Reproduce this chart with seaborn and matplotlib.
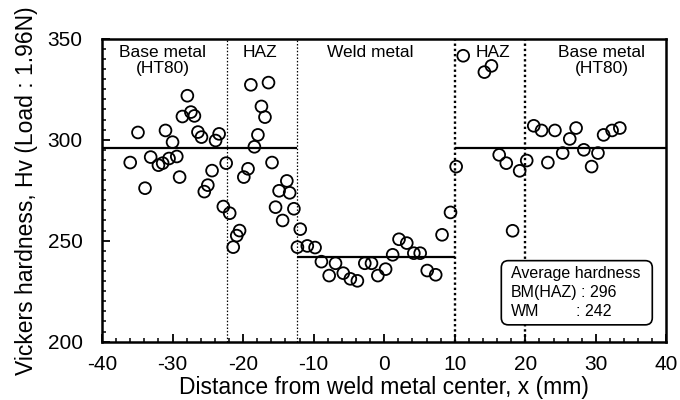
import matplotlib
matplotlib.use("Agg")
import matplotlib.pyplot as plt
from matplotlib.patches import FancyBboxPatch
from matplotlib.ticker import MultipleLocator
import seaborn as sns
import pandas as pd

# ---- data ----
distance_mm = [-36.0, -34.9, -33.9, -33.1, -32.0, -31.4, -31.0, -30.5, -30.0, -29.4,
               -29.0, -28.6, -27.9, -27.4, -26.9, -26.4, -25.9, -25.5, -25.0, -24.4,
               -23.9, -23.4, -22.8, -22.4, -21.9, -21.4, -20.9, -20.5, -19.9, -19.3,
               -18.9, -18.4, -17.9, -17.4, -16.9, -16.4, -15.9, -15.4, -14.9, -14.4,
               -13.8, -13.4, -12.8, -12.3, -11.9, -10.9, -9.8, -8.9, -7.8, -6.9,
               -5.8, -4.8, -3.8, -2.75, -1.8, -0.9, 0.2, 1.2, 2.1, 3.2,
               4.2, 5.1, 6.1, 7.3, 8.2, 9.4, 10.2, 11.2, 14.2, 15.2,
               16.3, 17.3, 18.2, 19.2, 20.2, 21.2, 22.3, 23.2, 24.2, 25.3,
               26.3, 27.2, 28.3, 29.4, 30.3, 31.1, 32.3, 33.4]
hardness_hv = [288.7, 303.6, 276.0, 291.4, 287.4, 288.4, 304.6, 290.7, 298.8, 291.7,
               281.5, 311.5, 321.8, 313.7, 311.8, 303.8, 301.3, 274.3, 277.5, 284.7,
               299.6, 302.9, 266.9, 288.4, 263.6, 246.8, 252.5, 255.0, 281.5, 285.6,
               327.2, 296.5, 302.4, 316.5, 311.2, 328.3, 288.7, 266.6, 274.7, 260.0,
               279.6, 273.7, 265.8, 246.8, 255.7, 247.4, 246.6, 239.6, 232.7, 238.8,
               233.9, 231.1, 230.1, 238.8, 238.8, 232.7, 235.9, 243.0, 250.7, 248.8,
               243.8, 243.8, 235.2, 233.1, 252.9, 264.0, 286.7, 341.6, 333.5, 336.6,
               292.5, 288.4, 254.9, 284.6, 289.7, 306.9, 304.6, 288.7, 304.6, 293.4,
               300.4, 305.8, 295.0, 286.7, 293.4, 302.4, 304.6, 305.8]

zone_boundaries = [-22.3, -12.4, 10.0, 20.0]
avg_bm = 296
avg_wm = 242
zone_labels = ["Base metal\n(HT80)", "HAZ", "Weld metal", "HAZ", "Base metal\n(HT80)"]
zone_label_x = [-31.4, -17.6, -2.0, 15.4, 30.8]

x_ticks = [-40, -30, -20, -10, 0, 10, 20, 30, 40]
y_ticks = [200, 250, 300, 350]

df = pd.DataFrame({"x": distance_mm, "hv": hardness_hv})

sns.set_theme(style="ticks")
plt.rcParams["font.family"] = ["Liberation Sans", "DejaVu Sans"]
plt.rcParams["axes.unicode_minus"] = False
plt.rcParams["text.color"] = "black"
plt.rcParams["axes.labelcolor"] = "black"

fig = plt.figure(figsize=(6.8, 4.0), dpi=100)
ax = fig.add_axes([0.150, 0.146, 0.830, 0.757])

sns.scatterplot(data=df, x="x", y="hv", ax=ax, s=72, marker="o",
                facecolor="none", edgecolor="black", linewidth=1.3, zorder=3)

# average lines
ax.hlines(avg_bm, -40, zone_boundaries[1], colors="black", lw=1.6, zorder=2)
ax.hlines(avg_wm, zone_boundaries[1], zone_boundaries[2], colors="black", lw=1.6, zorder=2)
ax.hlines(avg_bm, zone_boundaries[2], 40, colors="black", lw=1.6, zorder=2)

# zone boundaries
for i, b in enumerate(zone_boundaries):
    ax.axvline(b, color="black", ls=(0, (1.2, 1.5)) if i < 2 else (0, (1, 1.2)),
               lw=0.9 if i < 2 else 1.7, zorder=1)

# zone labels
for lab, xl in zip(zone_labels, zone_label_x):
    ax.text(xl, 347.0, lab, ha="center", va="top", fontsize=12.5, linespacing=1.12,
            color="black")

ax.set_xlim(-40, 40)
ax.set_ylim(200, 350)
ax.set_xticks(x_ticks)
ax.set_yticks(y_ticks)
ax.xaxis.set_minor_locator(MultipleLocator(2))
ax.yaxis.set_minor_locator(MultipleLocator(5))
ax.tick_params(axis="both", which="major", direction="in", length=6, width=1.3,
               labelsize=15, colors="black", top=False, right=False)
ax.tick_params(axis="x", which="major", pad=10)
ax.tick_params(axis="y", which="major", pad=14)
ax.tick_params(axis="both", which="minor", direction="in", length=3, width=1.1,
               top=False, right=False, colors="black")
for sp in ax.spines.values():
    sp.set_visible(True)
    sp.set_linewidth(1.8)
    sp.set_color("black")

ax.set_xlabel("Distance from weld metal center, x (mm)", fontsize=16.5, labelpad=1,
              color="black")
ax.set_ylabel("Vickers hardness, Hv (Load : 1.96N)", fontsize=16.5, labelpad=7,
              color="black")

# average hardness box
fig.canvas.draw()
bbox = ax.get_window_extent()
px_per_x = bbox.width / 80.0
px_per_y = bbox.height / 150.0
aspect = px_per_x / px_per_y
box = FancyBboxPatch((16.6, 208.3), 21.4, 31.8,
                     boxstyle="round,pad=0,rounding_size=1.0",
                     mutation_aspect=aspect, fc="white", ec="black", lw=1.2, zorder=4)
ax.add_patch(box)
kw = dict(fontsize=11.5, va="center", ha="left", zorder=5, color="black")
ax.text(18.0, 233.8, "Average hardness", **kw)
ax.text(18.0, 224.2, "BM(HAZ)", **kw)
ax.text(27.9, 224.2, ": " + str(avg_bm), **kw)
ax.text(18.0, 214.7, "WM", **kw)
ax.text(27.2, 214.7, ": " + str(avg_wm), **kw)

fig.savefig("out.png", dpi=100)
